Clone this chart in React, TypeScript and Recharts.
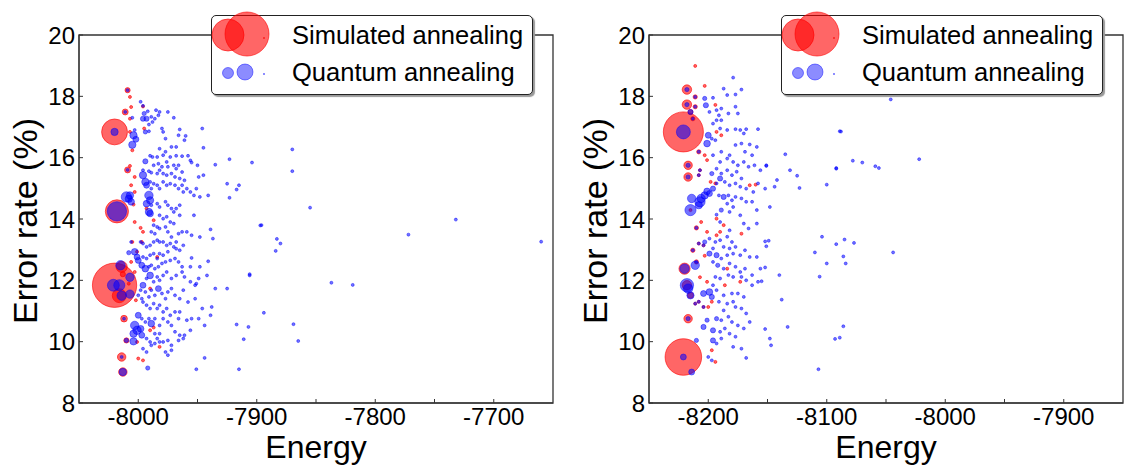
import React from "react";
import { ScatterChart, Scatter, XAxis, YAxis, ZAxis, ReferenceArea } from "recharts";

// [energy, error rate (%), number of occurrences]
type Pt = [number, number, number];

const leftXTicks = [-8000, -7950, -7900, -7850, -7800, -7750, -7700];
const rightXTicks = [-8200, -8150, -8100, -8050, -8000, -7950, -7900];
const yTicks = [8, 10, 12, 14, 16, 18, 20];
const seriesNames = ["Simulated annealing", "Quantum annealing"];

// Left panel: simulated annealing
const leftSA: Pt[] = [
  [-8020, 11.84, 220], [-8020, 16.84, 75], [-8018, 14.25, 60], [-8014, 12.44, 14], [-8016, 11.5, 22],
  [-8013, 12.2, 3], [-8009, 18.2, 3], [-8007, 17.98, 1], [-8006, 17.65, 1], [-8011, 17.49, 4],
  [-8007, 17.27, 1], [-7996, 17.67, 1], [-7995, 16.95, 1], [-8007, 15.73, 1], [-8009, 15.6, 4],
  [-8003, 15.37, 1], [-8006, 15.1, 1], [-8003, 14.88, 1], [-8004, 14.47, 1], [-8003, 13.9, 1],
  [-7998, 13.71, 1], [-7996, 13.58, 1], [-7987, 13.96, 1], [-7993, 14.34, 1], [-8001, 12.93, 1],
  [-7990, 11.73, 1], [-7984, 12.76, 1], [-8002, 11.35, 1], [-8012, 10.75, 5], [-8010, 10.04, 3],
  [-8001, 9.99, 1], [-7987, 10.46, 1], [-8014, 9.5, 8], [-8013, 9.01, 8], [-8000, 9.45, 1],
  [-7996, 9.39, 1], [-7982, 9.83, 1], [-7990, 10.37, 1], [-7997, 13.25, 1], [-8005, 13.25, 1],
  [-8006, 12.6, 1], [-8003, 12.27, 1], [-8008, 11.89, 1], [-8005, 16.24, 1], [-8007, 16.84, 1],
];

// Left panel: quantum annealing
const leftQA: Pt[] = [
  [-8020, 16.84, 6], [-8018, 14.25, 42], [-8021, 11.84, 16], [-8016, 11.84, 14], [-8015, 12.49, 10],
  [-8014, 11.5, 10], [-8007, 12.1, 8], [-8007, 11.55, 8], [-8013, 9.01, 6], [-8014, 9.5, 1],
  [-8012, 10.75, 1], [-8011, 17.49, 1], [-8009, 18.2, 1], [-8009, 15.6, 1], [-8010, 10.04, 2],
  [-8008, 12.9, 2], [-8006, 13.25, 1], [-8005, 17.3, 1], [-8003, 16.9, 1],
  [-7998, 17.82, 1], [-7996, 17.69, 1], [-7992, 17.51, 1], [-7985, 17.55, 1], [-7982, 17.49, 1],
  [-7975, 17.49, 1], [-7995, 17.44, 2], [-7993, 17.27, 3], [-7996, 17.27, 3], [-7989, 17.33, 1],
  [-7986, 17.27, 1], [-7983, 17.38, 1], [-7970, 17.3, 1], [-7988, 17.16, 1], [-7991, 17.08, 1],
  [-7994, 16.84, 2], [-7991, 16.86, 1], [-7980, 16.95, 1], [-7979, 16.84, 1], [-7965, 16.92, 1],
  [-7946, 16.95, 1], [-7966, 16.73, 1], [-7960, 16.71, 1], [-7961, 16.57, 1], [-7977, 16.62, 1],
  [-7972, 16.35, 1], [-7982, 16.29, 1], [-7977, 16.19, 1], [-7968, 16.35, 1], [-7945, 16.32, 1],
  [-8004, 16.73, 6], [-8005, 16.42, 6], [-8002, 16.6, 4],
  [-7990, 16.06, 1], [-7988, 16.02, 1], [-7984, 16.02, 1], [-7979, 16.08, 1], [-7973, 16.02, 1],
  [-7968, 16.06, 1], [-7963, 16.05, 1], [-7958, 16.06, 1], [-7956, 15.91, 1], [-7955, 15.84, 1],
  [-7950, 15.75, 1], [-7994, 15.88, 3], [-7987, 15.75, 1], [-7983, 15.8, 1], [-7980, 15.7, 1],
  [-7976, 15.86, 1], [-7975, 15.7, 1], [-7970, 15.75, 1], [-7968, 15.64, 1], [-7966, 15.75, 1],
  [-7963, 15.53, 1], [-7996, 15.59, 1], [-7991, 15.56, 1], [-7989, 15.51, 1], [-7984, 15.48, 1],
  [-7982, 15.59, 1], [-7979, 15.48, 1], [-7976, 15.43, 1], [-7972, 15.48, 1], [-7969, 15.37, 1],
  [-7965, 15.32, 1], [-7961, 15.26, 1], [-7996, 15.43, 6], [-7994, 15.21, 6], [-7993, 15.1, 4],
  [-7990, 15.21, 1], [-7987, 15.15, 1], [-7989, 14.99, 1], [-7984, 15.1, 1], [-7982, 14.99, 1],
  [-7979, 15.21, 1], [-7976, 15.1, 1], [-7973, 15.15, 1], [-7969, 15.1, 1], [-7966, 14.99, 1],
  [-7963, 15.1, 1], [-7962, 14.88, 1], [-7959, 14.99, 1], [-7956, 14.88, 1], [-7953, 14.77, 1],
  [-7951, 14.99, 1], [-7948, 14.72, 1], [-7941, 14.77, 1], [-7923, 15.95, 1], [-7904, 15.84, 1],
  [-7935, 15.77, 1], [-7925, 15.15, 1], [-7915, 15.1, 1], [-7917, 14.96, 1], [-7923, 14.69, 1],
  [-7949, 15.37, 1], [-7945, 15.43, 1], [-8007, 14.77, 6], [-8008, 14.66, 6], [-8006, 14.56, 5],
  [-8010, 14.72, 12], [-7991, 14.77, 8], [-7990, 14.61, 6], [-7993, 14.5, 5], [-7989, 14.45, 1],
  [-7984, 14.5, 1], [-7982, 14.39, 1], [-7977, 14.56, 1], [-7975, 14.45, 1], [-7972, 14.34, 1],
  [-7968, 14.34, 1], [-7965, 14.45, 1], [-7970, 14.23, 1], [-7991, 14.23, 6], [-7990, 14.18, 5],
  [-7982, 14.12, 1], [-7979, 14.01, 1], [-7976, 14.07, 1], [-7973, 13.9, 1], [-7965, 14.12, 1],
  [-7953, 14.12, 1],
  [-7987, 13.8, 1], [-7984, 13.74, 1], [-7989, 13.58, 1], [-7986, 13.52, 1], [-7982, 13.69, 1],
  [-7977, 13.74, 1], [-7975, 13.58, 1], [-7970, 13.85, 1], [-7966, 13.52, 1], [-7963, 13.58, 1],
  [-7959, 13.58, 1], [-7955, 13.47, 1], [-7948, 13.41, 1], [-7939, 13.66, 1], [-7937, 13.36, 1],
  [-7896, 13.8, 1], [-7968, 13.25, 1], [-7972, 13.41, 1],
  [-7998, 13.25, 1], [-7996, 13.2, 1], [-7993, 13.09, 1], [-7990, 13.14, 1], [-7987, 13.25, 1],
  [-7984, 13.31, 1], [-7982, 13.25, 1], [-7979, 13.25, 1], [-7976, 13.14, 1], [-7973, 13.2, 1],
  [-7970, 13.09, 1], [-7968, 13.03, 1], [-7965, 12.98, 1], [-7962, 13.14, 1], [-7975, 12.93, 1],
  [-7979, 12.82, 1], [-7982, 12.87, 1], [-7984, 12.71, 1], [-7987, 12.87, 1], [-7990, 12.82, 1],
  [-7993, 12.71, 1], [-7996, 12.76, 1], [-8003, 12.93, 5], [-8001, 12.76, 4], [-8000, 12.65, 4],
  [-7997, 12.49, 4], [-7994, 12.38, 5], [-7991, 12.44, 1], [-7989, 12.49, 1], [-7986, 12.38, 1],
  [-7983, 12.44, 1], [-7980, 12.55, 1], [-7977, 12.6, 1], [-7973, 12.65, 1], [-7969, 12.71, 1],
  [-7966, 12.6, 1], [-7963, 12.44, 1], [-7955, 12.73, 1], [-7956, 12.44, 1], [-7941, 12.62, 1],
  [-7948, 12.44, 1], [-7949, 12.06, 1], [-7952, 11.84, 1], [-7956, 11.95, 1], [-7961, 12.11, 1],
  [-7963, 12.27, 1], [-7968, 12.16, 1], [-7972, 12.06, 1], [-7976, 12.27, 1], [-7979, 12.16, 1],
  [-7982, 12.0, 1], [-7984, 12.11, 1], [-7987, 11.95, 1], [-7990, 12.16, 5], [-7993, 12.06, 1],
  [-7996, 11.84, 4], [-7998, 11.68, 1], [-8000, 11.51, 1], [-7997, 11.4, 1], [-7994, 11.62, 1],
  [-7991, 11.46, 1], [-7989, 11.68, 1], [-7986, 11.51, 1], [-7983, 11.73, 4], [-7980, 11.57, 1],
  [-7977, 11.4, 1], [-7975, 11.62, 1], [-7972, 11.73, 1], [-7969, 11.51, 1], [-7965, 11.4, 1],
  [-7962, 11.68, 1], [-7958, 11.29, 1], [-7952, 11.4, 1], [-7951, 11.89, 1], [-7942, 12.16, 1],
  [-7935, 11.73, 1], [-7925, 11.73, 1], [-7906, 12.16, 1], [-7894, 10.94, 1], [-7996, 11.29, 1],
  [-7993, 11.19, 1], [-7990, 11.08, 1], [-7987, 11.24, 1], [-7984, 11.08, 1], [-7982, 11.19, 1],
  [-7979, 10.97, 1], [-7976, 11.08, 1], [-7973, 10.86, 1], [-7969, 10.97, 1], [-7966, 10.75, 1],
  [-7965, 10.97, 1], [-7959, 10.7, 1], [-7955, 10.75, 1], [-7946, 11.08, 1], [-7938, 11.13, 1],
  [-7939, 10.86, 1], [-8000, 10.86, 4], [-7997, 10.75, 1], [-7994, 10.64, 1], [-7991, 10.75, 1],
  [-7989, 10.59, 5], [-7986, 10.75, 1], [-7982, 10.53, 1], [-7979, 10.75, 1], [-7975, 10.64, 1],
  [-7972, 10.53, 1], [-7969, 10.32, 1], [-7965, 10.21, 1], [-7961, 10.21, 1], [-7956, 10.37, 1],
  [-7949, 10.75, 1], [-7944, 10.53, 1], [-7917, 10.56, 1], [-7907, 10.48, 1], [-7911, 10.08, 1],
  [-8003, 10.53, 8], [-8001, 10.37, 8], [-7998, 10.42, 5], [-8004, 10.26, 6], [-7997, 10.21, 4],
  [-7993, 10.1, 1], [-7990, 9.99, 1], [-7986, 10.26, 1], [-7984, 10.1, 1], [-7982, 10.26, 1],
  [-7979, 9.99, 1], [-7975, 10.04, 1], [-7972, 9.88, 1], [-7966, 10.04, 1], [-7962, 10.1, 1],
  [-7989, 9.88, 1], [-7986, 9.94, 1], [-7982, 9.99, 1], [-7996, 9.77, 1], [-7993, 9.66, 1],
  [-7977, 9.66, 1], [-7975, 9.56, 1], [-7972, 9.72, 1], [-7944, 9.47, 1], [-7951, 9.1, 1],
  [-7915, 9.1, 1], [-7992, 9.14, 2], [-8004, 10.01, 6],
  [-7660, 13.26, 1], [-7732, 13.98, 1], [-7772, 13.49, 1], [-7819, 11.85, 1], [-7837, 11.92, 1],
  [-7855, 14.37, 1], [-7870, 16.27, 1], [-7870, 15.56, 1], [-7869, 10.57, 1], [-7865, 10.02, 1],
  [-7883, 13.35, 1], [-7880, 13.2, 1], [-7884, 12.96, 1], [-7897, 13.79, 1], [-7906, 12.2, 1],
];

// Right panel: simulated annealing
const rightSA: Pt[] = [
  [-8221, 16.84, 180], [-8221, 9.5, 150], [-8218, 18.22, 10], [-8218, 17.73, 10], [-8217, 15.75, 8],
  [-8217, 15.37, 8], [-8220, 12.38, 14], [-8218, 11.84, 10], [-8217, 10.75, 8], [-8215, 14.29, 1],
  [-8211, 18.99, 1], [-8203, 18.34, 1], [-8211, 17.98, 2], [-8211, 17.66, 2], [-8215, 17.49, 3],
  [-8213, 17.27, 2], [-8208, 16.19, 2], [-8207, 15.59, 1], [-8208, 15.43, 1], [-8203, 16.08, 1],
  [-8201, 15.92, 1], [-8210, 13.71, 2], [-8213, 12.98, 2], [-8215, 11.51, 4], [-8210, 12.6, 2],
  [-8208, 13.2, 1], [-8204, 13.14, 1], [-8203, 12.8, 1], [-8201, 11.95, 1], [-8207, 12.1, 1],
  [-8208, 11.3, 1], [-8204, 11.13, 1], [-8200, 11.13, 1], [-8197, 11.3, 1], [-8211, 11.24, 1],
  [-8193, 16.84, 1], [-8189, 16.73, 1], [-8198, 15.21, 1], [-8194, 15.16, 1], [-8165, 15.1, 1],
  [-8193, 14.01, 1], [-8187, 13.8, 1], [-8201, 13.58, 1], [-8193, 13.47, 1], [-8184, 12.38, 1],
  [-8173, 11.95, 1], [-8186, 11.84, 1], [-8197, 9.72, 1], [-8194, 9.34, 1], [-8190, 13.58, 1],
  [-8172, 13.52, 1], [-8194, 17.72, 1], [-8160, 15.12, 1], [-8206, 13.9, 1],
];

// Right panel: quantum annealing
const rightQA: Pt[] = [
  [-8221, 16.84, 22], [-8221, 9.5, 4], [-8218, 18.22, 2], [-8218, 17.73, 2], [-8217, 15.75, 2],
  [-8217, 15.37, 2], [-8220, 12.38, 10], [-8218, 11.84, 20], [-8217, 11.73, 10], [-8215, 11.51, 6],
  [-8211, 12.49, 8], [-8217, 10.75, 2], [-8214, 9.01, 4], [-8210, 10.04, 2], [-8214, 14.67, 8],
  [-8215, 14.29, 14], [-8207, 14.56, 12], [-8206, 14.67, 8], [-8203, 14.77, 6], [-8201, 14.9, 5],
  [-8208, 14.45, 6], [-8211, 17.98, 1], [-8211, 17.66, 1], [-8215, 17.49, 3], [-8213, 17.27, 1],
  [-8208, 16.19, 1], [-8210, 13.71, 1], [-8213, 12.98, 1], [-8210, 12.6, 1], [-8208, 13.2, 1],
  [-8204, 13.14, 1], [-8208, 11.3, 1], [-8204, 11.13, 1], [-8211, 11.24, 1], [-8207, 15.59, 1],
  [-8208, 15.43, 1],
  [-8179, 18.61, 1], [-8187, 18.25, 1], [-8172, 18.22, 1], [-8196, 17.95, 1], [-8184, 18.04, 1],
  [-8177, 18.06, 1], [-8203, 17.93, 2], [-8202, 17.71, 3], [-8199, 17.49, 1], [-8193, 17.55, 1],
  [-8191, 17.38, 1], [-8189, 17.6, 1], [-8189, 17.22, 1], [-8193, 17.22, 1], [-8196, 17.11, 1],
  [-8183, 17.44, 1], [-8177, 17.66, 1], [-8175, 17.44, 1], [-8200, 16.73, 4], [-8201, 16.46, 5],
  [-8197, 16.62, 1], [-8177, 16.93, 1], [-8173, 16.9, 1], [-8168, 16.93, 1], [-8158, 16.93, 1],
  [-8170, 16.79, 1], [-8190, 16.95, 1], [-8184, 16.9, 1], [-8194, 16.57, 1], [-8177, 16.41, 1],
  [-8172, 16.46, 1], [-8165, 16.43, 1], [-8159, 16.35, 1], [-8169, 16.19, 1], [-8163, 16.08, 1],
  [-8189, 16.19, 1], [-8182, 16.08, 1], [-8135, 16.11, 1], [-8131, 15.59, 1], [-8125, 15.41, 1],
  [-8144, 15.05, 1], [-8123, 15.01, 1], [-8152, 14.99, 1], [-8148, 14.39, 1], [-8092, 15.64, 1],
  [-8100, 15.12, 1], [-8089, 16.86, 1], [-8196, 16.08, 1], [-8190, 15.86, 1], [-8184, 15.97, 1],
  [-8179, 15.86, 1], [-8175, 15.75, 1], [-8170, 15.86, 1], [-8166, 15.7, 1], [-8161, 15.75, 1],
  [-8156, 15.59, 1], [-8151, 15.73, 1], [-8193, 15.64, 1], [-8197, 15.48, 2], [-8189, 15.48, 1],
  [-8184, 15.59, 1], [-8180, 15.43, 1], [-8176, 15.54, 1], [-8172, 15.32, 1], [-8190, 15.32, 3],
  [-8193, 15.16, 1], [-8186, 15.21, 1], [-8182, 15.1, 1], [-8177, 15.16, 1], [-8173, 15.05, 1],
  [-8168, 14.99, 1], [-8162, 14.88, 1], [-8158, 15.16, 1], [-8196, 14.99, 3], [-8199, 14.83, 4],
  [-8191, 14.77, 1], [-8187, 14.72, 3], [-8183, 14.77, 1], [-8180, 14.61, 1], [-8177, 14.72, 1],
  [-8172, 14.67, 1], [-8168, 14.56, 1], [-8163, 14.56, 1], [-8159, 14.29, 1], [-8184, 14.5, 1],
  [-8182, 14.23, 1], [-8189, 14.29, 2], [-8193, 14.14, 1], [-8179, 14.39, 1], [-8173, 14.12, 1],
  [-8170, 13.85, 1], [-8159, 13.85, 1], [-8166, 13.69, 1], [-8190, 13.9, 1], [-8182, 13.63, 1],
  [-8199, 13.36, 1], [-8194, 13.25, 1], [-8203, 13.25, 2], [-8190, 13.31, 1], [-8184, 13.42, 1],
  [-8180, 13.25, 1], [-8177, 13.09, 1], [-8182, 13.04, 1], [-8187, 13.09, 1], [-8196, 13.04, 1],
  [-8199, 12.87, 3], [-8193, 12.82, 3], [-8189, 12.71, 1], [-8184, 12.82, 1], [-8179, 12.87, 1],
  [-8173, 12.82, 1], [-8169, 12.98, 1], [-8165, 12.76, 1], [-8159, 12.76, 1], [-8152, 13.27, 1],
  [-8149, 13.29, 1], [-8151, 13.11, 1], [-8196, 12.6, 1], [-8192, 12.49, 2], [-8187, 12.38, 1],
  [-8182, 12.55, 1], [-8177, 12.44, 1], [-8173, 12.27, 1], [-8169, 12.38, 1], [-8163, 12.17, 1],
  [-8156, 12.38, 1], [-8152, 12.42, 1], [-8158, 11.95, 1], [-8155, 11.97, 1], [-8163, 11.84, 1],
  [-8168, 12.0, 1], [-8172, 12.11, 1], [-8179, 12.11, 1], [-8183, 12.17, 1], [-8190, 12.06, 1],
  [-8194, 12.11, 1], [-8196, 11.84, 1], [-8199, 11.62, 5], [-8204, 11.57, 4], [-8197, 11.46, 3],
  [-8193, 11.68, 1], [-8187, 11.51, 1], [-8180, 11.57, 1], [-8175, 11.57, 1], [-8170, 11.46, 1],
  [-8191, 11.3, 1], [-8184, 11.24, 1], [-8179, 11.3, 1], [-8177, 11.13, 1], [-8172, 11.08, 1],
  [-8168, 10.92, 1], [-8165, 10.64, 1], [-8187, 11.02, 1], [-8193, 10.75, 2], [-8189, 10.7, 1],
  [-8183, 10.81, 1], [-8180, 10.64, 1], [-8175, 10.53, 1], [-8170, 10.43, 1], [-8201, 10.7, 2],
  [-8204, 10.48, 3], [-8196, 10.37, 3], [-8190, 10.32, 1], [-8186, 10.43, 1], [-8182, 10.26, 1],
  [-8177, 10.16, 1], [-8196, 10.04, 3], [-8193, 9.94, 1], [-8189, 10.1, 1], [-8179, 9.83, 1],
  [-8172, 9.77, 1], [-8168, 9.47, 1], [-8200, 9.5, 1], [-8197, 9.39, 1], [-8152, 10.41, 1],
  [-8148, 10.1, 1], [-8147, 9.88, 1], [-8138, 11.37, 1], [-8133, 10.48, 1], [-8140, 12.17, 1],
  [-8107, 9.1, 1],
  [-8046, 17.9, 1], [-8022, 15.95, 1], [-8056, 15.66, 1], [-8059, 15.72, 1], [-8070, 15.84, 1],
  [-8078, 15.9, 1], [-8088, 16.85, 1], [-8092, 15.66, 1], [-8044, 12.91, 1], [-8077, 13.22, 1],
  [-8085, 13.33, 1], [-8092, 13.18, 1], [-8086, 12.78, 1], [-8084, 12.55, 1], [-8100, 12.55, 1],
  [-8104, 13.42, 1], [-8110, 12.91, 1], [-8106, 12.12, 1], [-8086, 10.5, 1], [-8093, 10.09, 1],
  [-8089, 10.13, 1], [-8142, 15.27, 1], [-8151, 15.75, 1],
];

const toRows = (pts: Pt[]) => pts.map(([energy, error, n]) => ({ energy, error, n }));

const FONT = '"Liberation Sans", Arial, Helvetica, sans-serif';
const AXIS = "#333";

function LegendBox() {
  return (
    <div
      style={{
        position: "absolute", left: 211, top: 15, width: 320, height: 78,
        border: "1.5px solid #222", borderRadius: 5, background: "#fff",
        boxShadow: "2px 2px 1px #999", fontFamily: FONT,
      }}
    >
      <svg width={320} height={78} style={{ position: "absolute", left: 0, top: 0, overflow: "visible" }}>
        <circle cx={16} cy={19} r={16} fill="#ff0000" fillOpacity={0.6} stroke="#ff0000" strokeOpacity={0.6} />
        <circle cx={35} cy={18} r={22} fill="#ff0000" fillOpacity={0.6} stroke="#ff0000" strokeOpacity={0.6} />
        <circle cx={52} cy={22} r={1} fill="#ff0000" fillOpacity={0.7} />
        <circle cx={16} cy={57} r={5.5} fill="#0000ff" fillOpacity={0.45} stroke="#0000ff" strokeOpacity={0.45} />
        <circle cx={33} cy={56} r={8} fill="#0000ff" fillOpacity={0.45} stroke="#0000ff" strokeOpacity={0.45} />
        <circle cx={52} cy={58} r={1} fill="#0000ff" fillOpacity={0.6} />
        <text x={80} y={28} fontSize={25.5} fill="#000" fontFamily={FONT}>{seriesNames[0]}</text>
        <text x={80} y={65} fontSize={25.5} fill="#000" fontFamily={FONT}>{seriesNames[1]}</text>
      </svg>
    </div>
  );
}

function Panel({ sa, qa, domain, ticks, width, right }: {
  sa: Pt[]; qa: Pt[]; domain: [number, number]; ticks: number[]; width: number; right: number;
}) {
  const fmt = (v: number) => (v % 100 === 0 ? String(v) : "");
  return (
    <div style={{ position: "relative", width, height: 466 }}>
      <ScatterChart width={width} height={466} margin={{ top: 35, right, left: 0, bottom: 0 }}>
        <XAxis
          xAxisId="b" type="number" dataKey="energy" domain={domain} ticks={ticks}
          allowDataOverflow tickFormatter={fmt} height={63} tickSize={-4} tickMargin={9}
          stroke={AXIS} tick={{ fill: "#000", fontSize: 24, fontFamily: FONT }}
          label={{ value: "Energy", position: "insideBottom", offset: 8, fontSize: 32, fill: "#000", fontFamily: FONT }}
        />
        <YAxis
          yAxisId="l" type="number" dataKey="error" domain={[8, 20]} ticks={yTicks}
          allowDataOverflow width={79} tickSize={-4} tickMargin={8} stroke={AXIS}
          tick={{ fill: "#000", fontSize: 24, fontFamily: FONT }}
          label={{
            content: (p: any) => {
              const vb = p.viewBox || { x: 0, y: 35, width: 79, height: 368 };
              const cx = vb.x + 25;
              const cy = vb.y + vb.height / 2 + 2;
              return (
                <text x={cx} y={cy} transform={`rotate(-90, ${cx}, ${cy})`} textAnchor="middle"
                  dominantBaseline="central" fontSize={34} fill="#000" fontFamily={FONT}>
                  Error rate (%)
                </text>
              );
            },
          }}
        />
        <ZAxis type="number" dataKey="n" domain={[0, 250]} range={[0, 1750]} />
        <ReferenceArea xAxisId="b" yAxisId="l" x1={domain[0]} x2={domain[1]} y1={8} y2={20}
          fill="none" stroke={AXIS} strokeWidth={1.3} ifOverflow="visible" />
        <Scatter data={toRows(sa)} xAxisId="b" yAxisId="l" fill="#ff0000" fillOpacity={0.6}
          stroke="#ff0000" strokeOpacity={0.6} isAnimationActive={false} />
        <Scatter data={toRows(qa)} xAxisId="b" yAxisId="l" fill="#0000ff" fillOpacity={0.55}
          stroke="#0000ff" strokeOpacity={0.45} isAnimationActive={false} />
      </ScatterChart>
      <LegendBox />
    </div>
  );
}

export default function App() {
  return (
    <div style={{ position: "absolute", left: 0, top: 0, width: 1129, height: 466, background: "#fff", display: "flex" }}>
      <div style={{ width: 570 }}>
        <Panel sa={leftSA} qa={leftQA} domain={[-8050, -7650]} ticks={leftXTicks} width={565} right={12} />
      </div>
      <Panel sa={rightSA} qa={rightQA} domain={[-8250, -7850]} ticks={rightXTicks} width={559} right={6} />
    </div>
  );
}
